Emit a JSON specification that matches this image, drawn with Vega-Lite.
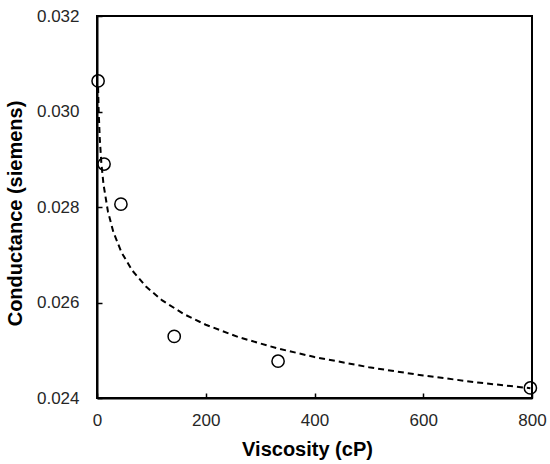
{
  "$schema": "https://vega.github.io/schema/vega-lite/v6.json",
  "description": "Conductance against viscosity with a dashed power-law trend line.",
  "width": 435,
  "height": 382,
  "autosize": "none",
  "padding": {"left": 97, "top": 16, "right": 18, "bottom": 66},
  "config": {
    "font": "Liberation Sans",
    "view": {"stroke": "black", "strokeWidth": 2}
  },
  "datasets": {
    "measured": [
      {"viscosity": 2, "conductance": 0.03064},
      {"viscosity": 13, "conductance": 0.0289},
      {"viscosity": 44, "conductance": 0.02806},
      {"viscosity": 142, "conductance": 0.02529},
      {"viscosity": 333, "conductance": 0.02477},
      {"viscosity": 797, "conductance": 0.02421}
    ],
    "trend": [
      {"viscosity": 2, "conductance": 0.030514},
      {"viscosity": 3, "conductance": 0.030039},
      {"viscosity": 5, "conductance": 0.029451},
      {"viscosity": 8, "conductance": 0.028921},
      {"viscosity": 12, "conductance": 0.028471},
      {"viscosity": 20, "conductance": 0.027913},
      {"viscosity": 30, "conductance": 0.027479},
      {"viscosity": 45, "conductance": 0.027051},
      {"viscosity": 65, "conductance": 0.026668},
      {"viscosity": 90, "conductance": 0.026335},
      {"viscosity": 120, "conductance": 0.026044},
      {"viscosity": 160, "conductance": 0.025756},
      {"viscosity": 200, "conductance": 0.025534},
      {"viscosity": 260, "conductance": 0.025276},
      {"viscosity": 330, "conductance": 0.025044},
      {"viscosity": 400, "conductance": 0.024858},
      {"viscosity": 500, "conductance": 0.024644},
      {"viscosity": 600, "conductance": 0.024471},
      {"viscosity": 700, "conductance": 0.024325},
      {"viscosity": 797, "conductance": 0.024205}
    ]
  },
  "encoding": {
    "x": {
      "field": "viscosity",
      "type": "quantitative",
      "scale": {"domain": [0, 800], "nice": false},
      "axis": {
        "title": "Viscosity (cP)",
        "values": [0, 200, 400, 600, 800],
        "grid": false,
        "labelFlush": false,
        "labelOverlap": false,
        "domainColor": "black",
        "domainWidth": 2,
        "tickColor": "black",
        "tickWidth": 1.5,
        "tickSize": -5,
        "labelPadding": 19,
        "labelFontSize": 17,
        "labelColor": "#262626",
        "titleFontSize": 20,
        "titleFontWeight": "bold",
        "titleColor": "black",
        "titleX": 210,
        "titleY": 57,
        "titleBaseline": "alphabetic"
      }
    },
    "y": {
      "field": "conductance",
      "type": "quantitative",
      "scale": {"domain": [0.024, 0.032], "nice": false, "zero": false},
      "axis": {
        "title": "Conductance (siemens)",
        "values": [0.024, 0.026, 0.028, 0.03, 0.032],
        "format": ".3f",
        "grid": false,
        "labelFlush": false,
        "labelOverlap": false,
        "domainColor": "black",
        "domainWidth": 2,
        "tickColor": "black",
        "tickWidth": 1.5,
        "tickSize": -5,
        "labelPadding": 23,
        "labelFontSize": 17,
        "labelColor": "#262626",
        "titleFontSize": 20,
        "titleFontWeight": "bold",
        "titleColor": "black",
        "titleX": -72,
        "titleY": 197
      }
    }
  },
  "layer": [
    {
      "data": {"name": "trend"},
      "mark": {"type": "line", "color": "black", "strokeWidth": 2, "strokeDash": [6, 4]}
    },
    {
      "data": {"name": "measured"},
      "mark": {"type": "point", "shape": "circle", "filled": false, "color": "black", "size": 150, "strokeWidth": 1.5, "opacity": 1}
    }
  ]
}
